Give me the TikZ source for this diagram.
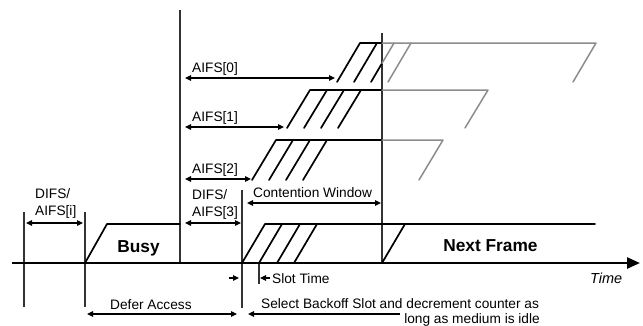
\documentclass[tikz,border=0pt]{standalone}
\usepackage{fontspec}
\setmainfont{Liberation Sans}
\usetikzlibrary{arrows.meta}
\begin{document}
\begin{tikzpicture}[x=1pt,y=-1pt,
  blk/.style={line width=1.7pt,black,line cap=round,line join=round},
  gry/.style={line width=1.5pt,black!45,line cap=round,line join=round},
  vline/.style={line width=1.1pt,black!80},
  dim/.style={line width=1.1pt,{Triangle[length=6pt,width=5.5pt]}-{Triangle[length=6pt,width=5.5pt]}},
  oneway/.style={line width=1.1pt,-{Triangle[length=6pt,width=5.5pt]}},
  lbl/.style={inner sep=0pt,anchor=base west,font=\fontsize{13.7}{16}\selectfont},
  big/.style={inner sep=0pt,anchor=base,font=\fontsize{17.3}{20}\selectfont\bfseries},
]
\useasboundingbox (0,0) rectangle (643,325);

% vertical lines
\draw[vline] (24,212) -- (24,307);
\draw[vline] (85,212) -- (85,307);
\draw[vline] (180,10) -- (180,263);
\draw[vline] (242,190) -- (242,308);
\draw[vline] (382,33) -- (382,263);
\draw[vline] (259,263) -- (259,284);

% busy
\draw[blk] (85,263) -- (107,224) -- (180,224);

% level 4 (base)
\draw[blk] (242,263) -- (265,224) -- (595,224);
\draw[blk] (259,263) -- (282,224);
\draw[blk] (277,263) -- (300,224);
\draw[blk] (294,263) -- (317,224);
\draw[blk] (382,263) -- (405,224);

% level 3
\draw[blk] (252,180) -- (276,140) -- (382,140);
\draw[gry] (382,140) -- (443,140) -- (419,180);
\draw[blk] (269,180) -- (293,140);
\draw[blk] (286,180) -- (310,140);
\draw[blk] (303,180) -- (327,140);

% level 2
\draw[blk] (287,128) -- (310,90) -- (382,90);
\draw[gry] (382,90) -- (488,90) -- (465,128);
\draw[blk] (304,128) -- (327,90);
\draw[blk] (321,128) -- (344,90);
\draw[blk] (338,128) -- (361,90);

% level 1
\draw[blk] (337,82) -- (360,43) -- (382,43);
\draw[gry] (382,43) -- (596,43) -- (573,82);
\draw[blk] (354,82) -- (377,43);
\draw[blk] (371,82) -- (382,63.3);
\draw[gry] (382,63.3) -- (394,43);
\draw[gry] (388,82) -- (411,43);

% time axis
\draw[line width=2.4pt,-{Triangle[length=13pt,width=11pt]}] (12,263) -- (640,263);

% dimension arrows
\draw[dim] (26,223) -- (83,223);
\draw[dim] (185,223) -- (241,223);
\draw[dim] (185,179) -- (251,179);
\draw[dim] (185,127) -- (284,127);
\draw[dim] (185,78) -- (335,78);
\draw[dim] (247,203) -- (381,203);
\draw[dim] (87,314) -- (237,314);
\draw[oneway] (400,314) -- (248,314);
\draw[oneway] (229,278) -- (239,278);
\draw[oneway] (270,278) -- (260,278);

% labels
\node[lbl] (d1) at (35,198) {DIFS/};
\node[lbl] (a1) at (35,215) {AIFS[i]};
\node[lbl] (d3) at (192,199) {DIFS/};
\node[lbl] (a3) at (192,216) {AIFS[3]};
\node[lbl] (a0) at (192,72) {AIFS[0]};
\node[lbl] (a1b) at (192,121) {AIFS[1]};
\node[lbl] (a2) at (192,173) {AIFS[2]};
\node[lbl] (cw) at (253,197) {Contention Window};
\node[lbl] (st) at (272,283) {Slot Time};
\node[lbl] (da) at (110,309) {Defer Access};
\node[lbl] (sb1) at (261,308) {Select Backoff Slot and decrement counter as};
\node[lbl,anchor=base east] (sb2) at (540,323) {long as medium is idle};
\node[big] (busy) at (138.5,252) {Busy};
\node[big] (nf) at (490.5,251) {Next Frame};
\node[lbl,font=\fontsize{14.5}{16}\selectfont\itshape] (tm) at (590,283) {Time};
\end{tikzpicture}
\end{document}
